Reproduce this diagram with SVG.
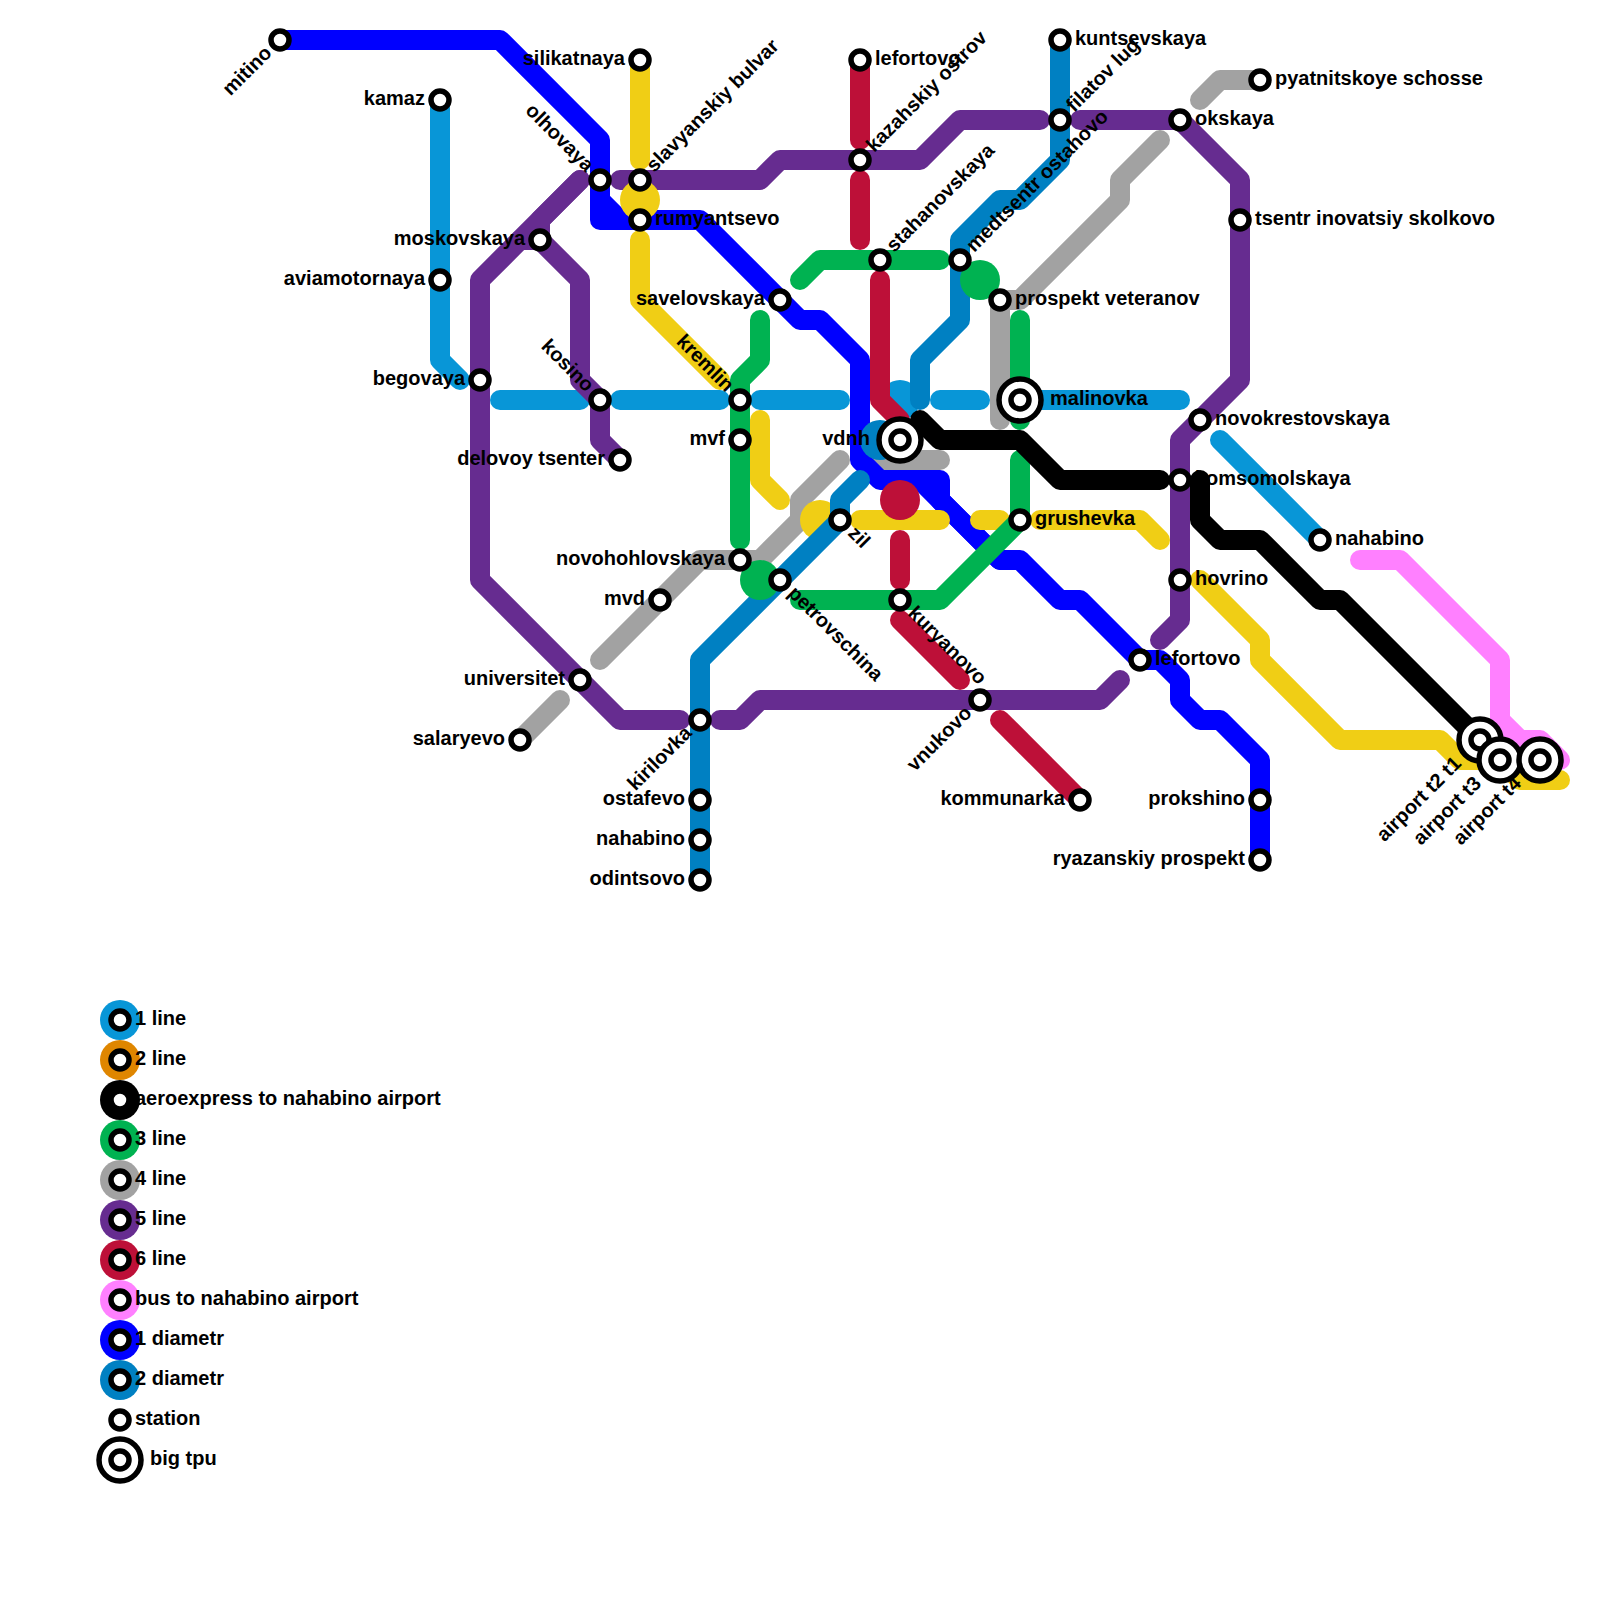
<svg xmlns="http://www.w3.org/2000/svg" width="1600" height="1600" viewBox="0 0 1600 1600">
<style>
.l{fill:none;stroke-width:20;stroke-linecap:round;stroke-linejoin:round}
.s{fill:#fff;stroke:#000;stroke-width:5.5}
.b{fill:#fff;stroke:#000;stroke-width:5.5}
text{font-family:"Liberation Sans",Arial,sans-serif;font-size:20px;font-weight:bold;fill:#000}
.e{text-anchor:end}
.lb{stroke:#0896d7}.lbf{fill:#0896d7}
.gy{stroke:#a2a2a2}.gyf{fill:#a2a2a2}
.pu{stroke:#662c90}.puf{fill:#662c90}
.bl{stroke:#0000ff}.blf{fill:#0000ff}
.ye{stroke:#f0ce15}.yef{fill:#f0ce15}
.db{stroke:#0080c2}.dbf{fill:#0080c2}
.re{stroke:#bd1038}.ref{fill:#bd1038}
.gr{stroke:#00b251}.grf{fill:#00b251}
.bk{stroke:#000}.bkf{fill:#000}
.pk{stroke:#ff80ff}.pkf{fill:#ff80ff}
.orf{fill:#df8600}
</style>
<g id="connectors">
<g id="line-1">
<path class="l lb" d="M440 100V360L460 380"/><path class="l lb" d="M500 400H580"/><path class="l lb" d="M620 400H720"/><path class="l lb" d="M760 400H840"/><circle class="lbf" cx="900" cy="400" r="20"/><path class="l lb" d="M940 400H980"/><path class="l lb" d="M1020 400H1180"/><path class="l lb" d="M1220 440L1320 540"/>
</g>
<g id="line-4">
<path class="l gy" d="M1200 100L1220 80H1260"/><path class="l gy" d="M1160 140L1120 180V200L1020 300H1000V420"/><path class="l gy" d="M880 460H940"/><path class="l gy" d="M840 460L800 500V520L760 560H700L600 660"/><path class="l gy" d="M560 700L520 740"/>
</g>
<g id="line-5">
<path class="l pu" d="M580 180L540 220V240L580 280V380L600 400V440L620 460"/><path class="l pu" d="M540 240H520"/><path class="l pu" d="M580 180L480 280V580L620 720H680"/><path class="l pu" d="M620 180H760L780 160H920L960 120H1040"/><path class="l pu" d="M1080 120H1180L1240 180V380L1180 440V620L1160 640"/><path class="l pu" d="M720 720H740L760 700H1100L1120 680"/>
</g>
<g id="diametr-1">
<path class="l bl" d="M280 40H500L600 140V220H700L800 320H820L860 360V460L880 480H940V500L1000 560H1020L1060 600H1080L1140 660H1160L1180 680V700L1200 720H1220L1260 760V860"/><path class="l bl" d="M600 200L620 220"/><path class="l bl" d="M920 480L1000 560"/>
</g>
<g id="line-2">
<path class="l ye" d="M640 60V160"/><circle class="yef" cx="640" cy="200" r="20"/><path class="l ye" d="M640 240V300L720 380"/><path class="l ye" d="M760 420V480L780 500"/><circle class="yef" cx="820" cy="520" r="20"/><path class="l ye" d="M860 520H940"/><path class="l ye" d="M980 520H1000"/><path class="l ye" d="M1040 520H1140L1160 540"/><path class="l ye" d="M1200 580L1260 640V660L1340 740H1440L1460 760H1500L1520 780H1560"/>
</g>
<g id="diametr-2">
<path class="l db" d="M1060 40V160L1020 200H1000L960 240V320L920 360V400"/><path class="l db" d="M700 880V660L840 520V500L860 480"/><circle class="dbf" cx="880" cy="440" r="20"/>
</g>
<g id="line-6">
<path class="l re" d="M860 60V140"/><path class="l re" d="M860 180V240"/><path class="l re" d="M880 280V400L900 420"/><circle class="ref" cx="900" cy="500" r="20"/><path class="l re" d="M900 540V580"/><path class="l re" d="M900 620L960 680"/><path class="l re" d="M1000 720L1080 800"/>
</g>
<g id="line-3">
<path class="l gr" d="M800 280L820 260H940"/><path class="l gr" d="M760 320V360L740 380V540"/><circle class="grf" cx="980" cy="280" r="20"/><circle class="grf" cx="760" cy="580" r="20"/><path class="l gr" d="M1020 320V420"/><path class="l gr" d="M1020 460V520L940 600H800"/>
</g>
<g id="aeroexpress">
<path class="l bk" d="M920 420L940 440H1020L1060 480H1160"/><path class="l bk" d="M1200 480V520L1220 540H1260L1320 600H1340L1480 740"/>
</g>
<g id="bus">
<path class="l pk" d="M1360 560H1400L1500 660V720L1520 740H1540L1560 760"/>
</g>
</g>
<g id="st-mitino"><circle class="s" cx="280" cy="40" r="9"/><text class="e" transform="rotate(-45 280 40)" x="265" y="45">mitino</text></g>
<g id="st-kamaz"><circle class="s" cx="440" cy="100" r="9"/><text class="e" x="425" y="105">kamaz</text></g>
<g id="st-aviamotornaya"><circle class="s" cx="440" cy="280" r="9"/><text class="e" x="425" y="285">aviamotornaya</text></g>
<g id="st-begovaya"><circle class="s" cx="480" cy="380" r="9"/><text class="e" x="465" y="385">begovaya</text></g>
<g id="st-moskovskaya"><circle class="s" cx="540" cy="240" r="9"/><text class="e" x="525" y="245">moskovskaya</text></g>
<g id="st-olhovaya"><circle class="s" cx="600" cy="180" r="9"/><text class="e" transform="rotate(45 600 180)" x="585" y="185">olhovaya</text></g>
<g id="st-slavyanskiy"><circle class="s" cx="640" cy="180" r="9"/><text transform="rotate(-45 640 180)" x="655" y="185">slavyanskiy bulvar</text></g>
<g id="st-silikatnaya"><circle class="s" cx="640" cy="60" r="9"/><text class="e" x="625" y="65">silikatnaya</text></g>
<g id="st-rumyantsevo"><circle class="s" cx="640" cy="220" r="9"/><text x="655" y="225">rumyantsevo</text></g>
<g id="st-savelovskaya"><circle class="s" cx="780" cy="300" r="9"/><text class="e" x="765" y="305">savelovskaya</text></g>
<g id="st-kosino"><circle class="s" cx="600" cy="400" r="9"/><text class="e" transform="rotate(45 600 400)" x="585" y="405">kosino</text></g>
<g id="st-delovoy"><circle class="s" cx="620" cy="460" r="9"/><text class="e" x="605" y="465">delovoy tsenter</text></g>
<g id="st-kremlin"><circle class="s" cx="740" cy="400" r="9"/><text class="e" transform="rotate(45 740 400)" x="725" y="405">kremlin</text></g>
<g id="st-mvf"><circle class="s" cx="740" cy="440" r="9"/><text class="e" x="725" y="445">mvf</text></g>
<g id="st-novohohlovskaya"><circle class="s" cx="740" cy="560" r="9"/><text class="e" x="725" y="565">novohohlovskaya</text></g>
<g id="st-mvd"><circle class="s" cx="660" cy="600" r="9"/><text class="e" x="645" y="605">mvd</text></g>
<g id="st-petrovschina"><circle class="s" cx="780" cy="580" r="9"/><text transform="rotate(45 780 580)" x="795" y="585">petrovschina</text></g>
<g id="st-zil"><circle class="s" cx="840" cy="520" r="9"/><text transform="rotate(45 840 520)" x="855" y="525">zil</text></g>
<g id="st-universitet"><circle class="s" cx="580" cy="680" r="9"/><text class="e" x="565" y="685">universitet</text></g>
<g id="st-salaryevo"><circle class="s" cx="520" cy="740" r="9"/><text class="e" x="505" y="745">salaryevo</text></g>
<g id="st-kirilovka"><circle class="s" cx="700" cy="720" r="9"/><text class="e" transform="rotate(-45 700 720)" x="685" y="725">kirilovka</text></g>
<g id="st-ostafevo"><circle class="s" cx="700" cy="800" r="9"/><text class="e" x="685" y="805">ostafevo</text></g>
<g id="st-nahabino-w"><circle class="s" cx="700" cy="840" r="9"/><text class="e" x="685" y="845">nahabino</text></g>
<g id="st-odintsovo"><circle class="s" cx="700" cy="880" r="9"/><text class="e" x="685" y="885">odintsovo</text></g>
<g id="st-lefortovo-n"><circle class="s" cx="860" cy="60" r="9"/><text x="875" y="65">lefortovo</text></g>
<g id="st-kazahskiy"><circle class="s" cx="860" cy="160" r="9"/><text transform="rotate(-45 860 160)" x="875" y="165">kazahskiy ostrov</text></g>
<g id="st-stahanovskaya"><circle class="s" cx="880" cy="260" r="9"/><text transform="rotate(-45 880 260)" x="895" y="265">stahanovskaya</text></g>
<g id="st-medtsentr"><circle class="s" cx="960" cy="260" r="9"/><text transform="rotate(-45 960 260)" x="975" y="265">medtsentr ostahovo</text></g>
<g id="st-prospekt"><circle class="s" cx="1000" cy="300" r="9"/><text x="1015" y="305">prospekt veteranov</text></g>
<g id="st-malinovka"><circle class="b" cx="1020" cy="400" r="21"/><circle class="s" cx="1020" cy="400" r="9"/><text x="1050" y="405">malinovka</text></g>
<g id="st-vdnh"><circle class="b" cx="900" cy="440" r="21"/><circle class="s" cx="900" cy="440" r="9"/><text class="e" x="870" y="445">vdnh</text></g>
<g id="st-grushevka"><circle class="s" cx="1020" cy="520" r="9"/><text x="1035" y="525">grushevka</text></g>
<g id="st-kuryanovo"><circle class="s" cx="900" cy="600" r="9"/><text transform="rotate(45 900 600)" x="915" y="605">kuryanovo</text></g>
<g id="st-vnukovo"><circle class="s" cx="980" cy="700" r="9"/><text class="e" transform="rotate(-45 980 700)" x="965" y="705">vnukovo</text></g>
<g id="st-kommunarka"><circle class="s" cx="1080" cy="800" r="9"/><text class="e" x="1065" y="805">kommunarka</text></g>
<g id="st-kuntsevskaya"><circle class="s" cx="1060" cy="40" r="9"/><text x="1075" y="45">kuntsevskaya</text></g>
<g id="st-filatov"><circle class="s" cx="1060" cy="120" r="9"/><text transform="rotate(-45 1060 120)" x="1075" y="125">filatov lug</text></g>
<g id="st-okskaya"><circle class="s" cx="1180" cy="120" r="9"/><text x="1195" y="125">okskaya</text></g>
<g id="st-pyatnitskoye"><circle class="s" cx="1260" cy="80" r="9"/><text x="1275" y="85">pyatnitskoye schosse</text></g>
<g id="st-tsentr"><circle class="s" cx="1240" cy="220" r="9"/><text x="1255" y="225">tsentr inovatsiy skolkovo</text></g>
<g id="st-novokrestovskaya"><circle class="s" cx="1200" cy="420" r="9"/><text x="1215" y="425">novokrestovskaya</text></g>
<g id="st-komsomolskaya"><circle class="s" cx="1180" cy="480" r="9"/><text x="1195" y="485">komsomolskaya</text></g>
<g id="st-hovrino"><circle class="s" cx="1180" cy="580" r="9"/><text x="1195" y="585">hovrino</text></g>
<g id="st-lefortovo-s"><circle class="s" cx="1140" cy="660" r="9"/><text x="1155" y="665">lefortovo</text></g>
<g id="st-prokshino"><circle class="s" cx="1260" cy="800" r="9"/><text class="e" x="1245" y="805">prokshino</text></g>
<g id="st-ryazanskiy"><circle class="s" cx="1260" cy="860" r="9"/><text class="e" x="1245" y="865">ryazanskiy prospekt</text></g>
<g id="st-nahabino-e"><circle class="s" cx="1320" cy="540" r="9"/><text x="1335" y="545">nahabino</text></g>
<g id="st-airport-t1"><circle class="b" cx="1480" cy="740" r="21"/><circle class="s" cx="1480" cy="740" r="9"/><text class="e" transform="rotate(-45 1480 740)" x="1450" y="745">airport t2 t1</text></g>
<g id="st-airport-t3"><circle class="b" cx="1500" cy="760" r="21"/><circle class="s" cx="1500" cy="760" r="9"/><text class="e" transform="rotate(-45 1500 760)" x="1470" y="765">airport t3</text></g>
<g id="st-airport-t4"><circle class="b" cx="1540" cy="760" r="21"/><circle class="s" cx="1540" cy="760" r="9"/><text class="e" transform="rotate(-45 1540 760)" x="1510" y="765">airport t4</text></g>
<g id="legend">
<g id="lg-1"><circle class="lbf" cx="120" cy="1020" r="20"/><circle class="s" cx="120" cy="1020" r="9"/><text x="135" y="1025">1 line</text></g>
<g id="lg-2"><circle class="orf" cx="120" cy="1060" r="20"/><circle class="s" cx="120" cy="1060" r="9"/><text x="135" y="1065">2 line</text></g>
<g id="lg-aero"><circle class="bkf" cx="120" cy="1100" r="20"/><circle class="s" cx="120" cy="1100" r="9"/><text x="135" y="1105">aeroexpress to nahabino airport</text></g>
<g id="lg-3"><circle class="grf" cx="120" cy="1140" r="20"/><circle class="s" cx="120" cy="1140" r="9"/><text x="135" y="1145">3 line</text></g>
<g id="lg-4"><circle class="gyf" cx="120" cy="1180" r="20"/><circle class="s" cx="120" cy="1180" r="9"/><text x="135" y="1185">4 line</text></g>
<g id="lg-5"><circle class="puf" cx="120" cy="1220" r="20"/><circle class="s" cx="120" cy="1220" r="9"/><text x="135" y="1225">5 line</text></g>
<g id="lg-6"><circle class="ref" cx="120" cy="1260" r="20"/><circle class="s" cx="120" cy="1260" r="9"/><text x="135" y="1265">6 line</text></g>
<g id="lg-bus"><circle class="pkf" cx="120" cy="1300" r="20"/><circle class="s" cx="120" cy="1300" r="9"/><text x="135" y="1305">bus to nahabino airport</text></g>
<g id="lg-d1"><circle class="blf" cx="120" cy="1340" r="20"/><circle class="s" cx="120" cy="1340" r="9"/><text x="135" y="1345">1 diametr</text></g>
<g id="lg-d2"><circle class="dbf" cx="120" cy="1380" r="20"/><circle class="s" cx="120" cy="1380" r="9"/><text x="135" y="1385">2 diametr</text></g>
<g id="lg-station"><circle class="s" cx="120" cy="1420" r="9"/><text x="135" y="1425">station</text></g>
<g id="lg-tpu"><circle class="b" cx="120" cy="1460" r="21"/><circle class="s" cx="120" cy="1460" r="9"/><text x="150" y="1465">big tpu</text></g>
</g>
</svg>
